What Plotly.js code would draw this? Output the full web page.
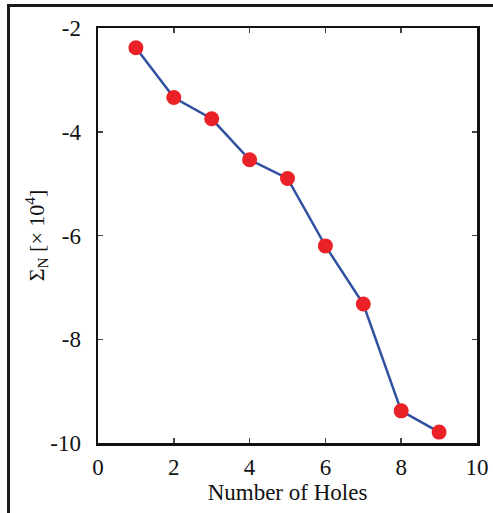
<!DOCTYPE html>
<html>
<head>
<meta charset="utf-8">
<script src="https://cdn.plot.ly/plotly-3.0.1.min.js"></script>
<style>
  html, body { margin: 0; padding: 0; background: #fff; }
  #wrap { position: relative; width: 493px; height: 513px; overflow: hidden; }
  #frame { position: absolute; left: 7px; top: 4px; width: 600px; height: 600px;
           border-left: 3px solid #1a1a1a; border-top: 3px solid #1a1a1a; pointer-events: none; }
  #chart { position: absolute; left: 0; top: 0; width: 493px; height: 513px; }
</style>
</head>
<body>
<div id="wrap">
  <div id="chart"></div>
  <div id="frame"></div>
</div>
<script>
// Sum of normalised values versus hole count
const holes = [1, 2, 3, 4, 5, 6, 7, 8, 9];
const sigmaN = [-2.38, -3.34, -3.75, -4.54, -4.90, -6.20, -7.32, -9.38, -9.79];
const xTicks = [0, 2, 4, 6, 8, 10];
const yTicks = [-10, -8, -6, -4, -2];

const family = '"Liberation Serif", "Times New Roman", serif';
const tickFont = { family: family, size: 23, color: '#111' };
const xTitleFont = { family: family, size: 23, color: '#111' };
const yTitleFont = { family: family, size: 22, color: '#111' };

const trace = {
  x: holes,
  y: sigmaN,
  mode: 'lines+markers',
  type: 'scatter',
  line: { color: '#3050a0', width: 2.5 },
  marker: { color: '#ea2228', size: 15, line: { width: 0 } },
  showlegend: false,
  hoverinfo: 'skip'
};

const axisCommon = {
  showgrid: false,
  zeroline: false,
  showline: true,
  linecolor: '#111',
  linewidth: 2.5,
  mirror: 'ticks',
  ticks: 'inside',
  ticklen: 5,
  tickwidth: 1.5,
  tickcolor: '#444',
  tickfont: tickFont
};

const layout = {
  width: 493,
  height: 513,
  margin: { l: 98, r: 16, t: 28, b: 70 },
  paper_bgcolor: 'rgba(0,0,0,0)',
  plot_bgcolor: '#fff',
  font: tickFont,
  xaxis: Object.assign({}, axisCommon, {
    range: [0, 10],
    tickmode: 'array',
    tickvals: xTicks,
    ticktext: xTicks.map(String),
    ticklabelstandoff: 2,
    title: { text: 'Number of Holes', font: xTitleFont, standoff: 2 }
  }),
  yaxis: Object.assign({}, axisCommon, {
    range: [-10, -2],
    tickmode: 'array',
    tickvals: yTicks,
    ticktext: yTicks.map(String),
    ticklabelstandoff: 10,
    title: { text: 'Σ<sub>N</sub> [× 10<sup>4</sup>]', font: yTitleFont, standoff: 0 }
  })
};

Plotly.newPlot('chart', [trace], layout, { displayModeBar: false, staticPlot: true });
</script>
</body>
</html>
